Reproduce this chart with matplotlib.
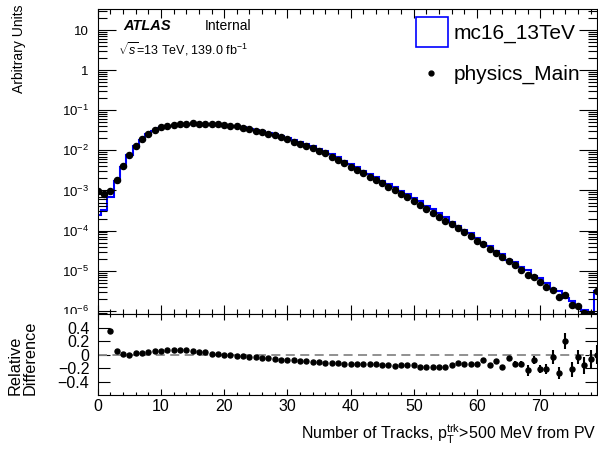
import numpy as np
import matplotlib
matplotlib.use("Agg")
import matplotlib.pyplot as plt
from matplotlib.patches import Rectangle
from matplotlib.ticker import FixedLocator, MultipleLocator, FuncFormatter, LogLocator, NullFormatter

plt.rcParams["font.family"] = ["Liberation Sans", "DejaVu Sans"]
plt.rcParams["mathtext.fontset"] = "custom"
plt.rcParams["mathtext.rm"] = "Liberation Sans"
plt.rcParams["mathtext.it"] = "Liberation Sans:italic"
plt.rcParams["mathtext.bf"] = "Liberation Sans:bold"
plt.rcParams["axes.linewidth"] = 0.8

# ── DATA ─────────────────────────────────────────────────────────────────────
n_tracks = np.arange(80)

data_main = [
    9.5e-4, 8.1e-4, 9.5e-4, 1.84e-3, 4.0e-3, 7.6e-3, 1.30e-2, 1.90e-2, 2.58e-2, 3.2e-2,
    3.8e-2, 4.17e-2, 4.4e-2, 4.57e-2, 4.67e-2, 4.75e-2, 4.67e-2, 4.58e-2, 4.5e-2, 4.42e-2,
    4.25e-2, 4.09e-2, 3.94e-2, 3.65e-2, 3.39e-2, 3.13e-2, 2.85e-2, 2.59e-2, 2.35e-2, 2.10e-2,
    1.87e-2, 1.65e-2, 1.46e-2, 1.29e-2, 1.12e-2, 9.8e-3, 8.5e-3, 7.0e-3, 5.8e-3, 4.8e-3,
    3.95e-3, 3.25e-3, 2.7e-3, 2.22e-3, 1.82e-3, 1.5e-3, 1.24e-3, 1.03e-3, 8.4e-4, 6.8e-4,
    5.5e-4, 4.4e-4, 3.43e-4, 2.78e-4, 2.21e-4, 1.76e-4, 1.43e-4, 1.13e-4, 9.0e-5, 7.3e-5,
    5.6e-5, 4.5e-5, 3.53e-5, 2.75e-5, 2.19e-5, 1.78e-5, 1.41e-5, 1.06e-5, 7.8e-6, 6.8e-6,
    5.1e-6, 3.9e-6, 3.37e-6, 2.2e-6, 2.5e-6, 1.37e-6, 1.29e-6, 8.8e-7, 8.5e-7, 3.2e-6,
]

mc16 = [
    2.5e-4, 3.2e-4, 7.0e-4, 1.75e-3, 3.94e-3, 7.6e-3, 1.27e-2, 1.85e-2, 2.49e-2, 3.05e-2,
    3.6e-2, 3.93e-2, 4.13e-2, 4.29e-2, 4.41e-2, 4.52e-2, 4.49e-2, 4.45e-2, 4.43e-2, 4.38e-2,
    4.25e-2, 4.13e-2, 4.0e-2, 3.72e-2, 3.49e-2, 3.24e-2, 2.98e-2, 2.74e-2, 2.51e-2, 2.27e-2,
    2.03e-2, 1.80e-2, 1.61e-2, 1.43e-2, 1.26e-2, 1.11e-2, 9.66e-3, 8.0e-3, 6.67e-3, 5.55e-3,
    4.57e-3, 3.76e-3, 3.14e-3, 2.6e-3, 2.13e-3, 1.76e-3, 1.47e-3, 1.23e-3, 9.94e-4, 8.1e-4,
    6.47e-4, 5.4e-4, 4.18e-4, 3.39e-4, 2.71e-4, 2.17e-4, 1.68e-4, 1.28e-4, 1.05e-4, 8.54e-5,
    6.47e-5, 4.92e-5, 4.15e-5, 3.06e-5, 2.67e-5, 1.87e-5, 1.63e-5, 1.23e-5, 1.02e-5, 7.43e-6,
    6.54e-6, 4.94e-6, 3.49e-6, 3.03e-6, 2.08e-6, 1.76e-6, 1.34e-6, 1.05e-6, 9.1e-7, 3.2e-6,
]

rel_diff = [
    2.8, 1.5, 0.355, 0.05, 0.015, 0.0, 0.02, 0.025, 0.035, 0.05,
    0.055, 0.06, 0.065, 0.065, 0.06, 0.05, 0.04, 0.03, 0.015, 0.01,
    0.0, -0.01, -0.015, -0.02, -0.03, -0.035, -0.045, -0.055, -0.065, -0.075,
    -0.08, -0.085, -0.095, -0.1, -0.11, -0.115, -0.12, -0.125, -0.13, -0.135,
    -0.135, -0.135, -0.14, -0.145, -0.145, -0.15, -0.155, -0.165, -0.155, -0.16,
    -0.15, -0.185, -0.18, -0.18, -0.185, -0.19, -0.15, -0.12, -0.145, -0.145,
    -0.135, -0.085, -0.15, -0.1, -0.18, -0.05, -0.135, -0.135, -0.235, -0.085,
    -0.22, -0.21, -0.035, -0.275, 0.2, -0.22, -0.035, -0.16, -0.07, 0.0,
]

rel_diff_err = [
    0.5, 0.4, 0.03, 0.01, 0.01, 0.01, 0.01, 0.01, 0.01, 0.01,
    0.01, 0.01, 0.01, 0.01, 0.01, 0.01, 0.01, 0.01, 0.01, 0.01,
    0.01, 0.01, 0.01, 0.01, 0.01, 0.01, 0.01, 0.01, 0.01, 0.01,
    0.01, 0.01, 0.01, 0.01, 0.01, 0.01, 0.01, 0.01, 0.01, 0.01,
    0.01, 0.01, 0.01, 0.01, 0.01, 0.01, 0.01, 0.01, 0.01, 0.01,
    0.012, 0.012, 0.012, 0.012, 0.015, 0.015, 0.015, 0.015, 0.018, 0.018,
    0.02, 0.02, 0.025, 0.025, 0.03, 0.03, 0.045, 0.045, 0.085, 0.06,
    0.06, 0.075, 0.1, 0.09, 0.12, 0.11, 0.1, 0.13, 0.13, 0.14,
]

bin_edges = np.arange(-0.5, 80.5, 1.0)

# ── FIGURE ───────────────────────────────────────────────────────────────────
fig = plt.figure(figsize=(5.98, 4.53), dpi=100)
ax = fig.add_axes([0.1635, 0.3068, 0.8349, 0.6727], zorder=0)
rax = fig.add_axes([0.1635, 0.128, 0.8349, 0.1788], zorder=2)

# white backing for the lower pad, hides the overhanging 10^-6 label
fig.add_artist(Rectangle((0, 0), 1, 0.3068, transform=fig.transFigure,
                         facecolor="white", edgecolor="none", zorder=1))

# main panel
ax.stairs(mc16, bin_edges, color="#0000ff", linewidth=1.5)
ax.plot(n_tracks, data_main, "o", color="black", markersize=4.4)

ax.set_yscale("log")
ax.set_xlim(0, 79)
ax.set_ylim(8.3e-7, 33)
ax.xaxis.set_major_locator(MultipleLocator(10))
ax.xaxis.set_minor_locator(MultipleLocator(2))
ax.xaxis.set_major_formatter(NullFormatter())
ax.yaxis.set_major_locator(LogLocator(base=10, numticks=20))
ax.yaxis.set_minor_locator(LogLocator(base=10, subs=np.arange(2, 10), numticks=20))
ax.yaxis.set_minor_formatter(NullFormatter())


def log_label(v, pos):
    e = int(round(np.log10(v)))
    if e == 0:
        return "1"
    if e == 1:
        return "10"
    return r"$10^{%d}$" % e


ax.yaxis.set_major_formatter(FuncFormatter(log_label))
ax.tick_params(which="both", direction="in", top=True, right=True)
ax.tick_params(axis="y", which="major", length=13, width=0.8, labelsize=9.5, pad=6.5)
ax.tick_params(axis="y", which="minor", length=6.5, width=0.8)
ax.tick_params(axis="x", which="major", length=6.5, width=0.8)
ax.tick_params(axis="x", which="minor", length=3.5, width=0.8)

# legend entries
ax.add_patch(Rectangle((0.637, 0.875), 0.064, 0.099, transform=ax.transAxes,
                       facecolor="none", edgecolor="#0000ff", linewidth=1.2))
ax.text(0.713, 0.921, "mc16_13TeV", transform=ax.transAxes, fontsize=15,
        ha="left", va="center")
ax.plot([0.668], [0.792], "o", color="black", markersize=3.5,
        transform=ax.transAxes, clip_on=False)
ax.text(0.713, 0.787, "physics_Main", transform=ax.transAxes, fontsize=15,
        ha="left", va="center")

# ATLAS label
fig.text(0.206, 0.934, "ATLAS", fontsize=10.5, fontweight="bold", fontstyle="italic")
fig.text(0.343, 0.934, "Internal", fontsize=10)
fig.text(0.198, 0.879, r"$\sqrt{s}$=13 TeV, 139.0 fb$^{-1}$", fontsize=9)

fig.text(0.02, 0.99, "Arbitrary Units", rotation=90, ha="left", va="top", fontsize=10)

# ratio panel
rax.axhline(0, color="#888888", linestyle=(0, (5, 3)), linewidth=1.3)
rax.errorbar(n_tracks, rel_diff, yerr=rel_diff_err, fmt="o", color="black",
             markersize=3.6, elinewidth=1.5, capsize=0)
rax.set_xlim(0, 79)
rax.set_ylim(-0.6, 0.6)
rax.xaxis.set_major_locator(MultipleLocator(10))
rax.xaxis.set_minor_locator(MultipleLocator(2))
rax.yaxis.set_major_locator(FixedLocator([-0.4, -0.2, 0, 0.2, 0.4]))
rax.yaxis.set_major_formatter(FuncFormatter(lambda v, p: f"{v:g}".replace("-", "\u2212")))
rax.tick_params(which="both", direction="in", top=True, right=True)
rax.tick_params(axis="y", which="major", length=8.5, width=0.8, labelsize=11.5, pad=6)
rax.tick_params(axis="x", which="major", length=4, width=0.8, labelsize=11.5, pad=3)
rax.tick_params(axis="x", which="minor", length=2, width=0.8)

fig.text(0.012, 0.128, "Relative\nDifference", rotation=90, ha="left", va="bottom",
         multialignment="left", fontsize=11.7, linespacing=1.05)

fig.text(0.997, 0.029, r"Number of Tracks, p$_{\mathrm{T}}^{\mathrm{trk}}$>500 MeV from PV",
         ha="right", va="baseline", fontsize=11.5)

fig.savefig("out.png", dpi=100)
